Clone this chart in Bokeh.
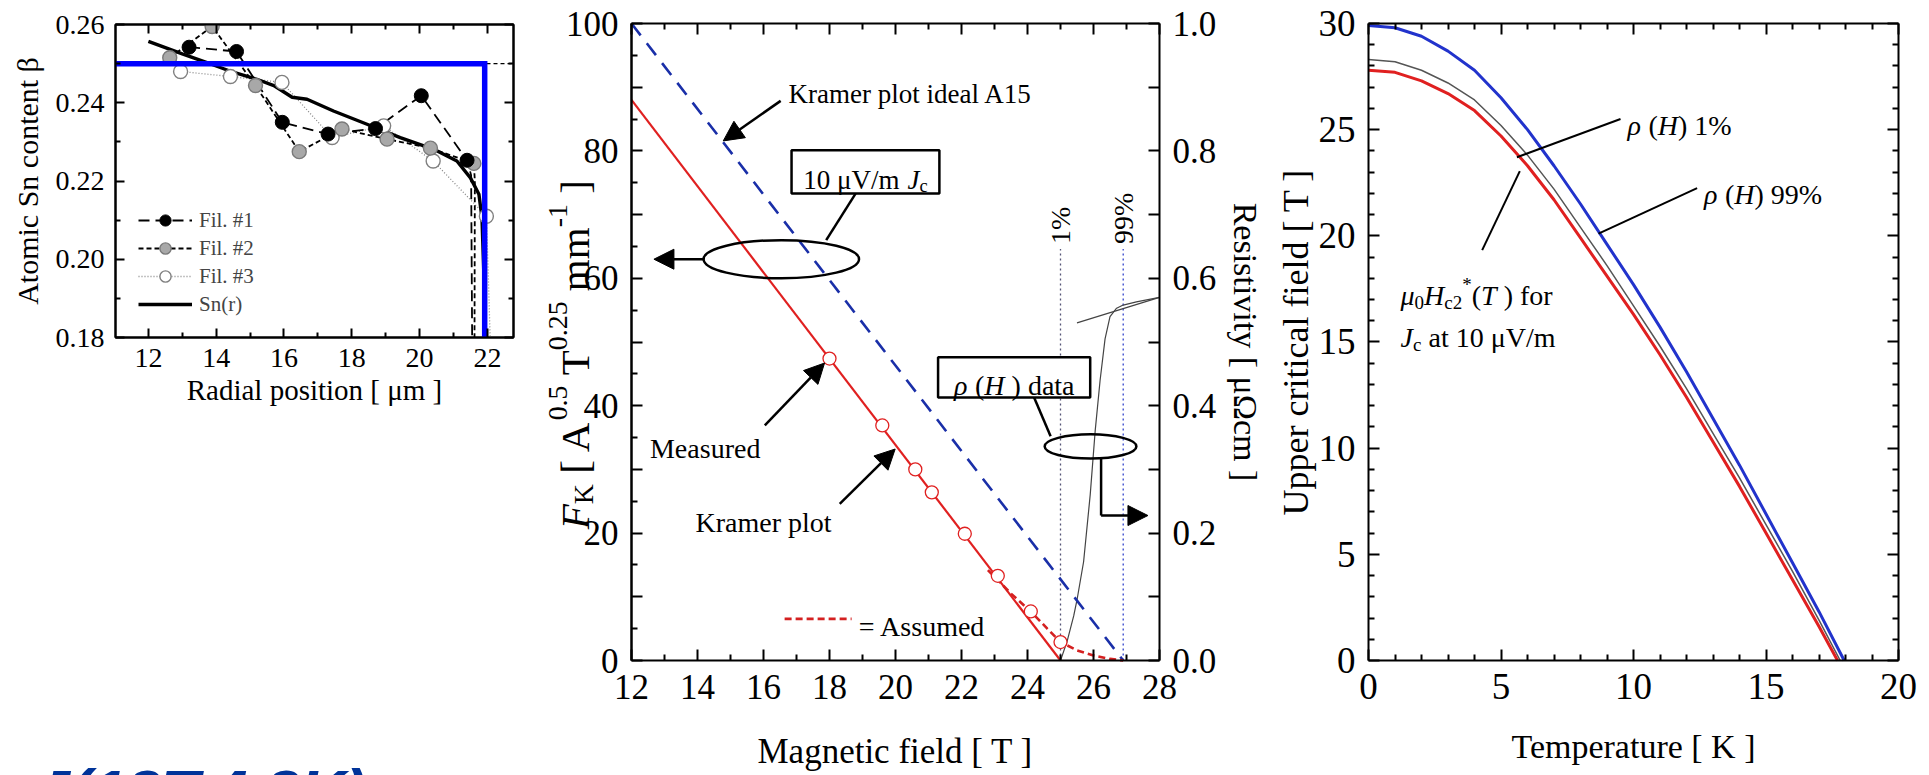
import math
from bokeh.plotting import figure
from bokeh.models import (Range1d, LinearAxis, Label, Arrow, NormalHead, Legend, LegendItem,
                          FixedTicker, PrintfTickFormatter, Div)
from bokeh.layouts import row, column
from bokeh.embed import file_html
from bokeh.resources import INLINE

SERIF = "Liberation Serif"

# ---------------- Panel 1 : Sn content profile ----------------
fil1_r = [13.2, 14.6, 15.95, 17.3, 18.7, 20.05, 21.4]
fil1_sn = [0.2542, 0.2531, 0.2350, 0.2320, 0.2334, 0.2418, 0.2253]
fil1_tail_r = [21.52, 21.55]
fil1_tail_sn = [0.2215, 0.18]
fil2_r = [12.63, 13.88, 15.16, 16.45, 17.71, 19.04, 20.32, 21.60]
fil2_sn = [0.2515, 0.2595, 0.2444, 0.2275, 0.2333, 0.2307, 0.2284, 0.2245]
fil2_tail_r = [21.63, 21.62]
fil2_tail_sn = [0.2200, 0.18]
fil3_r = [12.95, 14.42, 15.94, 17.42, 18.94, 20.40, 21.97]
fil3_sn = [0.2480, 0.2467, 0.2452, 0.2311, 0.2341, 0.2251, 0.2110]
fil3_tail_r = [22.03, 22.08]
fil3_tail_sn = [0.195, 0.18]
snr_r = [12.0, 13.0, 14.0, 14.5, 15.2, 15.7, 16.24, 16.68, 17.46, 18.45, 19.43,
         20.42, 21.10, 21.50, 21.75, 21.84, 21.90, 21.92]
snr_sn = [0.2557, 0.2525, 0.2494, 0.2478, 0.2460, 0.2444, 0.2414, 0.2409, 0.2379,
          0.2345, 0.2311, 0.2281, 0.2251, 0.2208, 0.2166, 0.2106, 0.195, 0.18]
ideal_r = [11.03, 21.92, 21.92]
ideal_sn = [0.25, 0.25, 0.18]
nominal_r = [11.03, 22.77]
nominal_sn = [0.25, 0.25]
p1_xticks = [12, 14, 16, 18, 20, 22]
p1_xminor = [11, 13, 15, 17, 19, 21]
p1_yticks = [0.18, 0.20, 0.22, 0.24, 0.26]
p1_yminor = [0.19, 0.21, 0.23, 0.25]

# ---------------- Panel 2 : Kramer plot ----------------
kramer_H = [12, 25]
kramer_F = [88, 0]
a15_H = [12, 26.9]
a15_F = [100, 0]
meas_H = [18.0, 19.6, 20.6, 21.1, 22.1, 23.1, 24.1, 25.0]
meas_F = [47.4, 36.9, 30.0, 26.4, 19.9, 13.3, 7.7, 2.9]
assumed_H = [22.8, 23.5, 24.1, 24.6, 25.0, 25.5, 26.0, 26.5, 26.9]
assumed_F = [14.2, 10.5, 7.7, 5.0, 2.9, 1.6, 0.8, 0.25, 0.0]
rho_H = [25.0, 25.2, 25.4, 25.5, 25.7, 25.9, 26.05, 26.2, 26.35, 26.5, 26.7, 26.9, 27.3, 28.0]
rho_val = [0.0, 0.03, 0.07, 0.095, 0.155, 0.26, 0.36, 0.44, 0.505, 0.54, 0.553, 0.558, 0.563, 0.570]
tangent_H = [25.5, 28.0]
tangent_rho = [0.530, 0.570]
pct_H = [25.0, 26.9]
pct_labels = ["1%", "99%"]
pct_colors = ["#555577", "#3344cc"]
pct_top = 0.646
p2_xticks = [12, 14, 16, 18, 20, 22, 24, 26, 28]
p2_xminor = [13, 15, 17, 19, 21, 23, 25, 27]
p2_yticks = [0, 20, 40, 60, 80, 100]
p2_ymid = [10, 30, 50, 70, 90]
p2_yminor = [5, 15, 25, 35, 45, 55, 65, 75, 85, 95]
p2_rticks = [0.0, 0.2, 0.4, 0.6, 0.8, 1.0]
p2_rminor = [0.1, 0.3, 0.5, 0.7, 0.9]

# ---------------- Panel 3 : Hc2(T) ----------------
hc_T_blue = [0, 1, 2, 3, 4, 5, 6, 7, 8, 9, 10, 11, 12, 13, 14, 15, 16, 17, 17.95]
hc_B_blue = [29.9, 29.8, 29.4, 28.7, 27.8, 26.5, 25.0, 23.3, 21.5, 19.6, 17.7, 15.7,
             13.6, 11.4, 9.2, 6.9, 4.6, 2.3, 0.0]
hc_T_grey = [0, 1, 2, 3, 4, 5, 6, 7, 8, 9, 10, 11, 12, 13, 14, 15, 16, 17, 17.8]
hc_B_grey = [28.3, 28.2, 27.8, 27.2, 26.4, 25.2, 23.8, 22.2, 20.4, 18.6, 16.7, 14.8,
             12.8, 10.7, 8.6, 6.4, 4.2, 1.9, 0.0]
hc_T_red = [0, 1, 2, 3, 4, 5, 6, 7, 8, 9, 10, 11, 12, 13, 14, 15, 16, 17, 17.7]
hc_B_red = [27.8, 27.7, 27.3, 26.7, 25.9, 24.7, 23.3, 21.7, 19.9, 18.1, 16.3, 14.4,
            12.4, 10.3, 8.2, 6.0, 3.8, 1.6, 0.0]
p3_xticks = [0, 5, 10, 15, 20]
p3_xminor = [1, 2, 3, 4, 6, 7, 8, 9, 11, 12, 13, 14, 16, 17, 18, 19]
p3_yticks = [0, 5, 10, 15, 20, 25, 30]
p3_yminor = [1, 2, 3, 4, 6, 7, 8, 9, 11, 12, 13, 14, 16, 17, 18, 19, 21, 22, 23, 24, 26, 27, 28, 29]

stamp_text = "J(12T,4.2K)"

# ---------------- helpers ----------------
REG = {' ': 250, '(': 333, ')': 333, '[': 333, ']': 333, '.': 250, ',': 250, '/': 278,
       '*': 500, '%': 833, '-': 333, '=': 564, 'A': 722, 'F': 556, 'H': 722, 'J': 389,
       'K': 722, 'T': 611, 'V': 722, 'M': 889, 'a': 444, 'c': 444, 'd': 500, 'e': 444,
       'f': 333, 'i': 278, 'l': 278, 'm': 778, 'o': 500, 'p': 500, 'r': 333, 's': 389,
       't': 278, 'u': 500, 'μ': 576, 'ρ': 500}
ITA = dict(REG)
ITA.update({'F': 611, 'H': 722, 'J': 444, 'K': 667, 'T': 556, 'ρ': 500, 'μ': 500})


def tw(s, size, italic=False):
    tab = ITA if italic else REG
    return sum(tab.get(c, 500) for c in s) / 1000.0 * size


def rich(p, x, y, segs, size, align="left", angle=0.0, color="black", yname="default"):
    items = []
    total = 0.0
    for t, st in segs:
        small = st in ("sub", "sup")
        fs = size * 0.68 if small else size
        it = st == "i"
        body = t.lstrip(" ")
        lead = tw(t[:len(t) - len(body)], fs, it)
        shift = -0.22 * size if st == "sub" else (0.42 * size if st == "sup" else 0.0)
        items.append((body, fs, it, total + lead, shift))
        total += tw(t, fs, it)
    start = {"left": 0.0, "center": -total / 2.0, "right": -total}[align]
    for t, fs, it, adv, shift in items:
        a = start + adv
        if angle == 0:
            xo, yo = a, shift
        elif angle > 0:
            xo, yo = -shift, a
        else:
            xo, yo = shift, -a
        p.add_layout(Label(x=x, y=y, x_offset=xo, y_offset=yo, text=t, angle=angle,
                           text_font=SERIF, text_font_size=f"{fs:.1f}px",
                           text_font_style="italic" if it else "normal",
                           text_color=color, text_baseline="alphabetic", text_align="left",
                           y_range_name=yname))


def style_axis(ax, size, maj_in=10, min_in=5, labels=True):
    ax.axis_line_width = 2
    ax.axis_line_color = "black"
    ax.major_tick_in = maj_in
    ax.major_tick_out = 0
    ax.minor_tick_in = min_in
    ax.minor_tick_out = 0
    ax.major_tick_line_width = 2
    ax.minor_tick_line_width = 2
    ax.major_label_text_font = SERIF
    ax.axis_label_text_font = SERIF
    ax.axis_label_text_font_style = "normal"
    ax.axis_label_text_color = "black"
    if labels:
        ax.major_label_text_color = "black"
        ax.major_label_text_font_size = f"{size}px"
    else:
        ax.major_label_text_color = None
        ax.major_label_text_font_size = "1px"
        ax.major_label_standoff = 0


def mirror(p, side, ticks, minor, maj_in=10, min_in=5, bounds=None, fixed=None):
    ax = LinearAxis(ticker=FixedTicker(ticks=ticks, minor_ticks=minor))
    style_axis(ax, 0, maj_in, min_in, labels=False)
    if bounds is not None:
        ax.bounds = bounds
    if fixed is not None:
        ax.fixed_location = fixed
    p.add_layout(ax, side)


def arrow(p, x0, y0, x1, y1, size=20, lw=2.5):
    p.add_layout(Arrow(x_start=x0, y_start=y0, x_end=x1, y_end=y1, line_width=lw,
                       line_color="black",
                       end=NormalHead(size=size, fill_color="black", line_color="black",
                                      line_width=1)))


def base_fig(w, h, xr, yr, bl, br, bt, bb):
    p = figure(width=w, height=h, x_range=Range1d(*xr), y_range=Range1d(*yr),
               output_backend="svg", toolbar_location=None,
               min_border_left=bl, min_border_right=br, min_border_top=bt, min_border_bottom=bb)
    p.grid.visible = False
    p.outline_line_color = "black"
    p.outline_line_width = 2
    p.background_fill_color = "white"
    p.border_fill_color = "white"
    return p


# ================= Panel 1 =================
p1 = base_fig(520, 420, (11.03, 22.77), (0.18, 0.26), 115, 7, 24, 83)
p1.xaxis.ticker = FixedTicker(ticks=p1_xticks, minor_ticks=p1_xminor)
p1.yaxis.ticker = FixedTicker(ticks=p1_yticks, minor_ticks=p1_yminor)
p1.yaxis.formatter = PrintfTickFormatter(format="%.2f")
for ax in p1.xaxis + p1.yaxis:
    style_axis(ax, 28, 9, 5)
p1.xaxis.major_label_standoff = 11
p1.yaxis.major_label_standoff = 11
p1.xaxis.axis_label = "Radial position [ μm ]"
p1.yaxis.axis_label = "Atomic Sn content β"
p1.xaxis.axis_label_text_font_size = "29px"
p1.yaxis.axis_label_text_font_size = "30px"
p1.xaxis.axis_label_standoff = 4
p1.yaxis.axis_label_standoff = 9
mirror(p1, "above", p1_xticks, p1_xminor, 9, 5)
mirror(p1, "right", p1_yticks, p1_yminor, 9, 5)

p1.line(nominal_r, nominal_sn, line_color="black", line_width=1.2, line_dash="4 3")
l3 = p1.line(fil3_r + fil3_tail_r, fil3_sn + fil3_tail_sn, line_color="#8a8a8a",
             line_width=1.3, line_dash="1 2")
l2 = p1.line(fil2_r + fil2_tail_r, fil2_sn + fil2_tail_sn, line_color="black",
             line_width=1.8, line_dash="5 3")
l1 = p1.line(fil1_r + fil1_tail_r, fil1_sn + fil1_tail_sn, line_color="black",
             line_width=1.8, line_dash="11 6")
ls = p1.line(snr_r, snr_sn, line_color="black", line_width=3.4)
s3 = p1.scatter(fil3_r, fil3_sn, size=14, marker="circle", fill_color="white",
                line_color="#808080", line_width=1.4)
s2 = p1.scatter(fil2_r, fil2_sn, size=14, marker="circle", fill_color="#a8a8a8",
                line_color="#7a7a7a", line_width=1.4)
s1 = p1.scatter(fil1_r, fil1_sn, size=14, marker="circle", fill_color="black",
                line_color="black")
p1.line(ideal_r, ideal_sn, line_color="#0000ff", line_width=5.5, line_join="miter")

leg = Legend(items=[LegendItem(label="Fil. #1", renderers=[l1, s1]),
                    LegendItem(label="Fil. #2", renderers=[l2, s2]),
                    LegendItem(label="Fil. #3", renderers=[l3, s3]),
                    LegendItem(label="Sn(r)", renderers=[ls])],
             location=(23, 19), glyph_width=54, glyph_height=28, label_height=28,
             spacing=0, padding=0, margin=0, label_standoff=7,
             label_text_font=SERIF, label_text_font_size="21px",
             border_line_alpha=0, background_fill_alpha=0)
p1.add_layout(leg)

# ---- stamp text under panel 1 (cut off by the page bottom, as in the original) ----
stamp = Div(text=('<div style="font-family:\'Liberation Sans\';font-size:63px;font-weight:bold;'
                  'font-style:italic;color:#003399;line-height:63px;padding-top:341px;'
                  'padding-left:35px;white-space:nowrap;margin:0;">' + stamp_text + '</div>'),
            width=520, height=355, styles={"overflow": "hidden", "margin": "0", "padding": "0"})

# ================= Panel 2 =================
# the frame covers the whole canvas; axes sit at fixed data locations inside it
p2 = base_fig(745, 775, (8.788, 31.212), (-18.053, 103.611), 5, 0, 0, 0)
p2.outline_line_color = None
p2.extra_y_ranges = {"rho": Range1d(-0.18053, 1.03611)}
p2.xaxis.ticker = FixedTicker(ticks=p2_xticks, minor_ticks=p2_xminor)
p2.xaxis.bounds = (12, 28)
p2.xaxis.fixed_location = 0
p2.yaxis.ticker = FixedTicker(ticks=p2_yticks, minor_ticks=p2_yminor)
p2.yaxis.fixed_location = 12
p2.yaxis.bounds = (0, 100)
for ax in p2.xaxis + p2.yaxis:
    style_axis(ax, 35, 11, 6)
p2.xaxis.major_label_standoff = 14
p2.yaxis.major_label_standoff = 13
p2.xaxis.axis_label = "Magnetic field [ T ]"
p2.xaxis.axis_label_text_font_size = "35px"
p2.xaxis.axis_label_standoff = 30
mirror(p2, "left", p2_ymid, [], 11, 6, bounds=(0, 100), fixed=12)
mirror(p2, "above", p2_xticks, p2_xminor, 11, 6, bounds=(12, 28), fixed=100)
rax = LinearAxis(y_range_name="rho", ticker=FixedTicker(ticks=p2_rticks, minor_ticks=p2_rminor),
                 formatter=PrintfTickFormatter(format="%.1f"), bounds=(0, 1), fixed_location=28)
style_axis(rax, 35, 11, 11)
rax.major_label_standoff = 13
rax.axis_label = "Resistivity [ μΩcm ]"
rax.axis_label_text_font_size = "34px"
rax.axis_label_standoff = 8
p2.add_layout(rax, "right")

for h, col in zip(pct_H, pct_colors):
    p2.line([h, h], [0, pct_top], y_range_name="rho", line_color=col, line_width=1.3,
            line_dash="2 3")
for h, lab in zip(pct_H, pct_labels):
    p2.add_layout(Label(x=h, y=pct_top + 0.008, y_range_name="rho", text=lab, angle=math.pi / 2,
                        text_font=SERIF, text_font_size="28px", text_align="left",
                        text_baseline="middle", text_color="black"))
p2.line(tangent_H, tangent_rho, y_range_name="rho", line_color="#444444", line_width=1.2)
p2.line(rho_H, rho_val, y_range_name="rho", line_color="#444444", line_width=1.2)
p2.line(a15_H, a15_F, line_color="#1a2fa8", line_width=2.6, line_dash="15 10")
p2.line(kramer_H, kramer_F, line_color="#e02020", line_width=2.2)
p2.line(assumed_H, assumed_F, line_color="#d42020", line_width=2.6, line_dash="7 4")
p2.scatter(meas_H, meas_F, size=13, marker="circle", fill_color="white",
           line_color="#e02020", line_width=1.3)

# annotations panel 2
rich(p2, 16.76, 88.9, [("Kramer plot ideal A15", "n")], 27)
arrow(p2, 16.52, 87.85, 14.78, 81.57)
p2.quad(left=[16.85], right=[21.33], bottom=[73.3], top=[80.1], fill_color="white",
        line_color="black", line_width=2.5)
rich(p2, 19.09, 75.4, [("10 μV/m ", "n"), ("J", "i"), ("c", "sub")], 27, align="center")
p2.line([18.79, 17.90], [73.3, 66.0], line_color="black", line_width=2.5)
p2.ellipse(x=[16.54], y=[63.0], width=[4.71], height=[5.97], fill_color=None,
           line_color="black", line_width=2.5)
arrow(p2, 14.18, 63.0, 12.68, 63.0)
rich(p2, 12.56, 33.3, [("Measured", "n")], 28)
arrow(p2, 16.04, 36.9, 17.85, 46.7)
rich(p2, 13.94, 21.7, [("Kramer plot", "n")], 28)
arrow(p2, 18.31, 24.6, 19.99, 33.2)
p2.line([16.64, 18.67], [6.54, 6.54], line_color="#d42020", line_width=2.6, line_dash="7 4")
rich(p2, 18.89, 5.3, [("= Assumed", "n")], 28)
p2.quad(left=[21.29], right=[25.9], bottom=[41.3], top=[47.6], fill_color="white",
        line_color="black", line_width=2.5)
rich(p2, 23.6, 43.2, [("ρ", "i"), (" (", "n"), ("H", "i"), (" ) data", "n")], 28, align="center")
p2.line([24.2, 24.7], [41.3, 35.2], line_color="black", line_width=2.5)
p2.ellipse(x=[25.91], y=[33.6], width=[2.78], height=[3.8], fill_color=None,
           line_color="black", line_width=2.5)
p2.line([26.23, 26.23], [31.7, 22.76], line_color="black", line_width=2.5)
arrow(p2, 26.23, 22.76, 27.65, 22.76)
# y axis title (rich text, rotated), left of the fixed-location axis
rich(p2, 10.28, 48.0, [("F", "i"), ("K", "sub"), (" [ A", "n"), ("0.5", "sup"), (" T", "n"),
                       ("0.25", "sup"), (" mm", "n"), ("-1", "sup"), (" ]", "n")],
     41, align="center", angle=math.pi / 2)

# ================= Panel 3 =================
p3 = base_fig(664, 775, (-3.8868, 21.1698), (-5.416, 31.083), 0, 0, 0, 0)
p3.outline_line_color = None
p3.xaxis.ticker = FixedTicker(ticks=p3_xticks, minor_ticks=p3_xminor)
p3.xaxis.bounds = (0, 20)
p3.xaxis.fixed_location = 0
p3.yaxis.ticker = FixedTicker(ticks=p3_yticks, minor_ticks=p3_yminor)
p3.yaxis.bounds = (0, 30)
p3.yaxis.fixed_location = 0
for ax in p3.xaxis + p3.yaxis:
    style_axis(ax, 37, 11, 6)
p3.xaxis.major_label_standoff = 14
p3.yaxis.major_label_standoff = 13
p3.xaxis.axis_label = "Temperature [ K ]"
p3.yaxis.axis_label = "Upper critical field [ T ]"
p3.xaxis.axis_label_text_font_size = "34px"
p3.yaxis.axis_label_text_font_size = "36px"
p3.xaxis.axis_label_standoff = 25
p3.yaxis.axis_label_standoff = 0
mirror(p3, "above", p3_xticks, p3_xminor, 11, 6, bounds=(0, 20), fixed=30)
mirror(p3, "right", p3_yticks, p3_yminor, 11, 6, bounds=(0, 30), fixed=20)

p3.line(hc_T_grey, hc_B_grey, line_color="#555555", line_width=1.5)
p3.line(hc_T_red, hc_B_red, line_color="#e02020", line_width=3)
p3.line(hc_T_blue, hc_B_blue, line_color="#2233cc", line_width=3)

p3.line([9.51, 5.6], [25.5, 23.7], line_color="black", line_width=2)
p3.line([12.4, 8.68], [22.25, 20.1], line_color="black", line_width=2)
p3.line([4.29, 5.71], [19.33, 23.05], line_color="black", line_width=2)
rich(p3, 9.77, 25.2, [("ρ", "i"), (" (", "n"), ("H", "i"), (") 1%", "n")], 28)
rich(p3, 12.66, 21.97, [("ρ", "i"), (" (", "n"), ("H", "i"), (") 99%", "n")], 28)
rich(p3, 1.21, 17.17, [("μ", "i"), ("0", "sub"), ("H", "i"), ("c2", "sub"), ("*", "sup"),
                       ("(", "n"), ("T", "i"), (" ) for", "n")], 28)
rich(p3, 1.21, 15.19, [("J", "i"), ("c", "sub"), (" at 10 μV/m", "n")], 28)

layout = row(column(p1, stamp), p2, p3)
open("out.html", "w").write(file_html(layout, INLINE))
